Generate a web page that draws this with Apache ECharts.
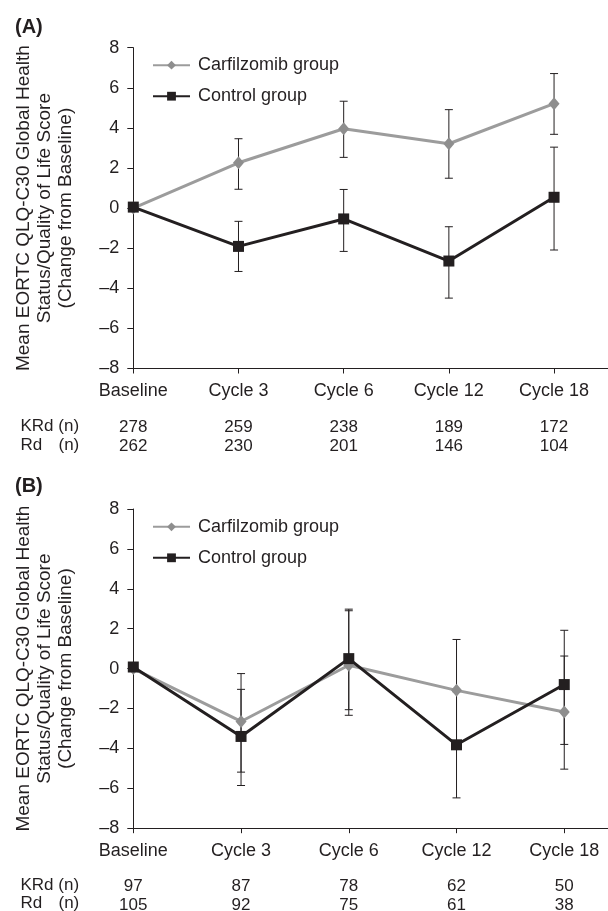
<!DOCTYPE html>
<html>
<head>
<meta charset="utf-8">
<script src="https://cdn.jsdelivr.net/npm/echarts@6/dist/echarts.min.js"></script>
<style>
html,body{margin:0;padding:0;background:#fff;}
#chart{width:608px;height:911px;}
</style>
</head>
<body>
<div id="chart"></div>
<script>
// ---- data ----
const categories = ['Baseline', 'Cycle 3', 'Cycle 6', 'Cycle 12', 'Cycle 18'];
const seriesNames = ['Carfilzomib group', 'Control group'];
const yTicks = [-8, -6, -4, -2, 0, 2, 4, 6, 8];
const yTitle = 'Mean EORTC QLQ-C30 Global Health\nStatus/Quality of Life Score\n(Change from Baseline)';

// Panel A
const carfA    = [0, 2.26, 3.96, 3.21, 5.21];
const carfALow = [null, 0.94, 2.53, 1.49, 3.68];
const carfAHigh= [null, 3.46, 5.33, 4.91, 6.71];
const ctrlA    = [0.05, -1.91, -0.54, -2.64, 0.54];
const ctrlALow = [null, -3.16, -2.16, -4.49, -2.09];
const ctrlAHigh= [null, -0.66, 0.93, -0.93, 3.04];
const krdNA = [278, 259, 238, 189, 172];
const rdNA  = [262, 230, 201, 146, 104];

// Panel B
const carfB    = [0, -2.65, 0.17, -1.09, -2.18];
const carfBLow = [null, -5.19, -2.34, -3.64, -5.04];
const carfBHigh= [null, -0.25, 2.90, 1.46, 0.63];
const ctrlB    = [0.08, -3.40, 0.50, -3.82, -0.80];
const ctrlBLow = [null, -5.86, -2.06, -6.48, -3.80];
const ctrlBHigh= [null, -1.04, 2.98, -1.16, 1.92];
const krdNB = [97, 87, 78, 62, 50];
const rdNB  = [105, 92, 75, 61, 38];

// ---- styles ----
const FONT = "'Liberation Sans', Arial, Helvetica, sans-serif";
const INK = '#231f20';
const GRAY_LINE = '#9c9c9c';
const GRAY_MARK = '#8e8e8e';
const idx = categories.map((c, i) => i);

const chart = echarts.init(document.getElementById('chart'), null, {renderer: 'canvas'});

function pts(arr) { return arr.map((v, i) => [i, v]); }
function errData(low, high) {
  const out = [];
  low.forEach((l, i) => { if (l !== null && high[i] !== null) out.push([i, l, high[i]]); });
  return out;
}
function errorRender(params, api) {
  const x = api.value(0);
  const p1 = api.coord([x, api.value(1)]);
  const p2 = api.coord([x, api.value(2)]);
  const w = 4;
  const st = {stroke: INK, lineWidth: 1};
  return {
    type: 'group',
    children: [
      {type: 'line', shape: {x1: p1[0], y1: p1[1], x2: p2[0], y2: p2[1]}, style: st},
      {type: 'line', shape: {x1: p1[0]-w, y1: p1[1], x2: p1[0]+w, y2: p1[1]}, style: st},
      {type: 'line', shape: {x1: p2[0]-w, y1: p2[1], x2: p2[0]+w, y2: p2[1]}, style: st}
    ]
  };
}
const yFmt = v => v < 0 ? '\u2013' + Math.abs(v) : String(v);

function mainX(gi, xmax) {
  return {
    type: 'value', gridIndex: gi, min: 0, max: xmax, position: 'bottom',
    splitLine: {show: false},
    axisLine: {show: true, onZero: false, lineStyle: {color: INK, width: 1}},
    axisTick: {show: true, length: 5, customValues: idx, lineStyle: {color: INK}},
    axisLabel: {customValues: idx, formatter: v => categories[v] ?? '', margin: 13.5,
      fontSize: 18, fontFamily: FONT, color: INK}
  };
}
function tableX(gi, xmax, krd, rd, margin) {
  return {
    type: 'value', gridIndex: gi, min: 0, max: xmax, position: 'bottom',
    splitLine: {show: false}, axisLine: {show: false}, axisTick: {show: false},
    axisLabel: {customValues: idx, formatter: v => (krd[v] ?? '') + '\n' + (rd[v] ?? ''),
      margin: margin, fontSize: 17, lineHeight: 19, fontFamily: FONT, color: INK}
  };
}
function mainY(gi) {
  return {
    type: 'value', gridIndex: gi, min: yTicks[0], max: yTicks[yTicks.length-1], interval: 2,
    splitLine: {show: false},
    axisLine: {show: true, onZero: false, lineStyle: {color: INK, width: 1}},
    axisTick: {show: true, length: 6, lineStyle: {color: INK}},
    axisLabel: {formatter: yFmt, margin: 14, fontSize: 18, fontFamily: FONT, color: INK},
    name: yTitle, nameLocation: 'middle', nameGap: 57,
    nameTextStyle: {fontSize: 19, lineHeight: 21, fontFamily: FONT, color: INK, align: 'center'}
  };
}
function lineSeries(name, xi, yi, data, isCtrl) {
  return {
    type: 'line', name: name, xAxisIndex: xi, yAxisIndex: yi, data: pts(data),
    symbol: isCtrl ? 'rect' : 'diamond',
    symbolSize: isCtrl ? 11 : [11, 13],
    lineStyle: {color: isCtrl ? INK : GRAY_LINE, width: 3},
    itemStyle: {color: isCtrl ? INK : GRAY_MARK},
    z: isCtrl ? 4 : 3, animation: false, clip: false
  };
}
function errSeries(xi, yi, low, high) {
  return {
    type: 'custom', xAxisIndex: xi, yAxisIndex: yi, data: errData(low, high),
    encode: {x: 0, y: [1, 2]}, renderItem: errorRender, z: 2, animation: false, clip: false,
    silent: true
  };
}
function legend(top) {
  return {
    data: seriesNames, orient: 'vertical', left: 147, top: top,
    itemWidth: 37, itemHeight: 11, itemGap: 13,
    textStyle: {fontSize: 18, fontFamily: FONT, color: INK, padding: [0, 0, 0, 3]},
    selectedMode: false
  };
}

const XMAX_A = 4.51, XMAX_B = 4.406;

const option = {
  animation: false,
  backgroundColor: '#fff',
  grid: [
    {left: 133.3, top: 47.7, width: 474.4, height: 320.8, outerBoundsMode: 'none', containLabel: false},
    {left: 133.3, top: 509, width: 474.7, height: 319.2, outerBoundsMode: 'none', containLabel: false}
  ],
  xAxis: [
    mainX(0, XMAX_A), tableX(0, XMAX_A, krdNA, rdNA, 49),
    mainX(1, XMAX_B), tableX(1, XMAX_B, krdNB, rdNB, 48.5)
  ],
  yAxis: [mainY(0), mainY(1)],
  legend: [legend(51.2), legend(512.8)],
  graphic: [
    {type: 'text', left: 15, top: 17, style: {text: '(A)', font: 'bold 20px ' + FONT, fill: INK}},
    {type: 'text', left: 15, top: 476, style: {text: '(B)', font: 'bold 20px ' + FONT, fill: INK}},
    {type: 'text', left: 20.5, top: 417.5, style: {text: 'KRd (n)', font: '17px ' + FONT, fill: INK}},
    {type: 'text', left: 20.5, top: 436.5, style: {text: 'Rd', font: '17px ' + FONT, fill: INK}},
    {type: 'text', left: 58.5, top: 436.5, style: {text: '(n)', font: '17px ' + FONT, fill: INK}},
    {type: 'text', left: 20.5, top: 876.5, style: {text: 'KRd (n)', font: '17px ' + FONT, fill: INK}},
    {type: 'text', left: 20.5, top: 895, style: {text: 'Rd', font: '17px ' + FONT, fill: INK}},
    {type: 'text', left: 58.5, top: 895, style: {text: '(n)', font: '17px ' + FONT, fill: INK}}
  ],
  series: [
    errSeries(0, 0, carfALow, carfAHigh),
    errSeries(0, 0, ctrlALow, ctrlAHigh),
    lineSeries(seriesNames[0], 0, 0, carfA, false),
    lineSeries(seriesNames[1], 0, 0, ctrlA, true),
    errSeries(2, 1, carfBLow, carfBHigh),
    errSeries(2, 1, ctrlBLow, ctrlBHigh),
    lineSeries(seriesNames[0], 2, 1, carfB, false),
    lineSeries(seriesNames[1], 2, 1, ctrlB, true)
  ]
};
chart.setOption(option);
</script>
</body>
</html>
